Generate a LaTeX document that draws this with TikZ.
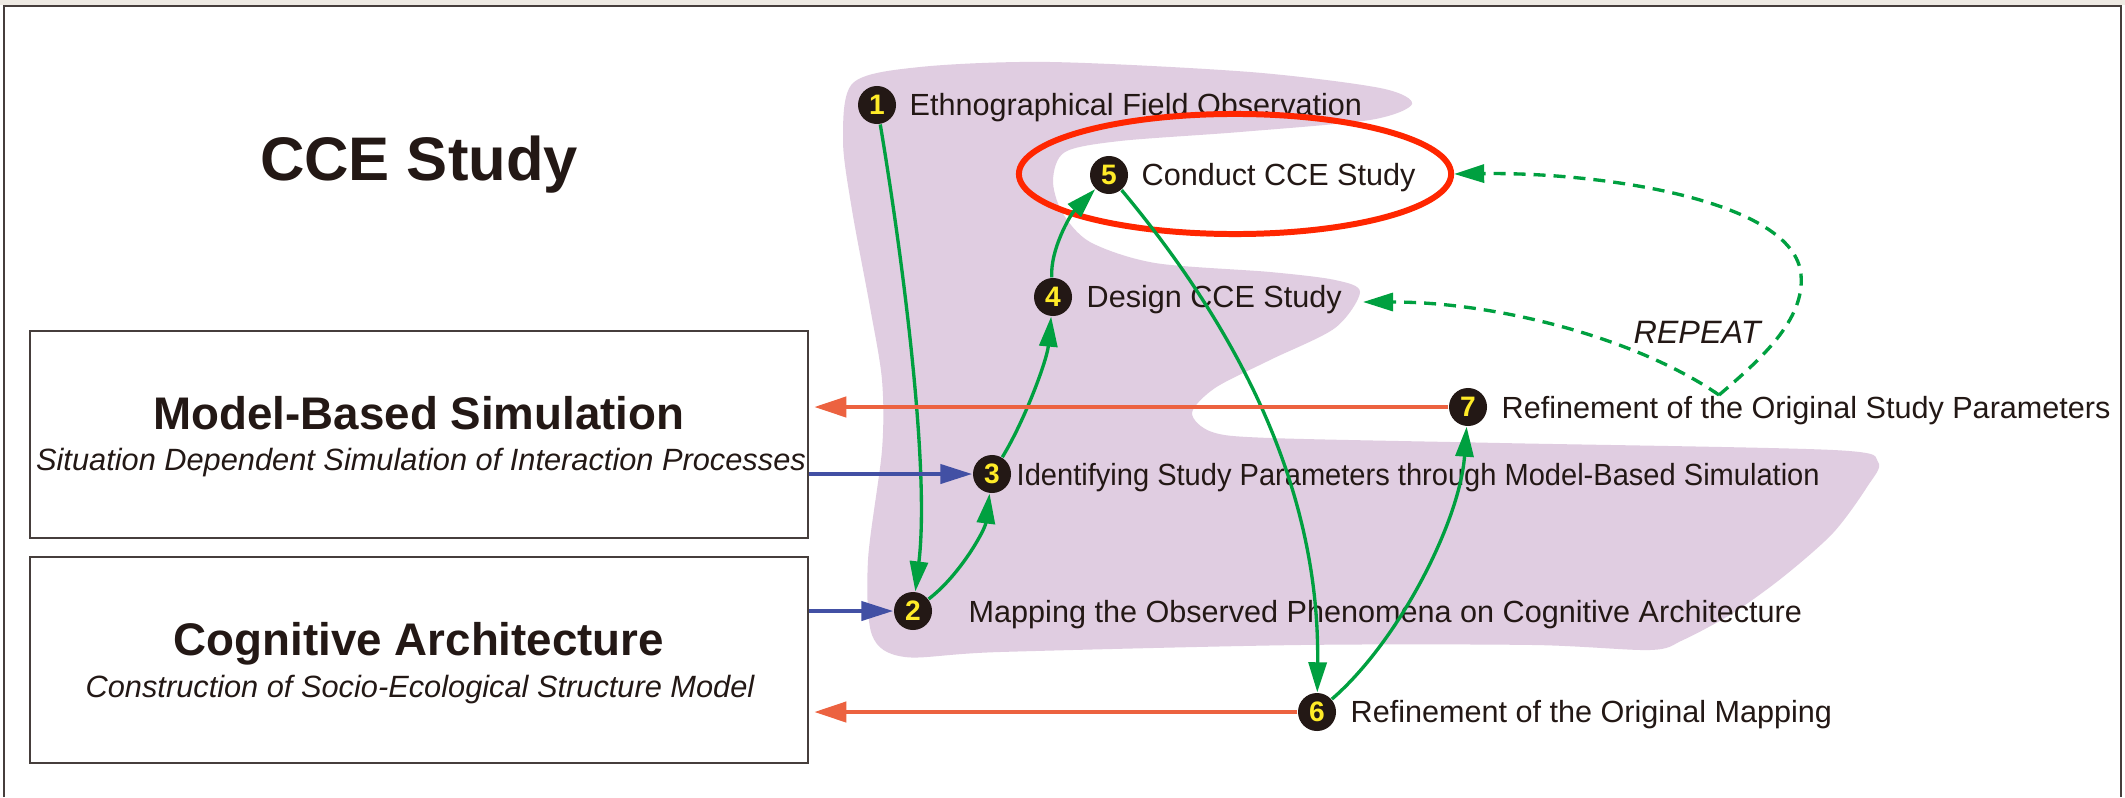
\documentclass[tikz,border=0pt]{standalone}
\usepackage{graphicx}
\usepackage{fontspec}
\setmainfont{Liberation Sans}
\usetikzlibrary{arrows.meta,shapes.geometric}
\definecolor{ink}{RGB}{35,24,21}
\definecolor{blob}{RGB}{224,205,225}
\definecolor{ringred}{RGB}{255,38,0}
\definecolor{flowgreen}{RGB}{0,160,64}
\definecolor{backorange}{RGB}{236,98,64}
\definecolor{inblue}{RGB}{66,80,164}
\definecolor{numyellow}{RGB}{255,235,40}
\definecolor{beige}{RGB}{238,234,227}
\definecolor{framegray}{RGB}{70,62,60}
\begin{document}
\begin{tikzpicture}[x=0.01cm,y=-0.01cm,
  num/.style={circle,fill=ink,text=numyellow,inner sep=0pt,minimum size=0.38cm,font=\bfseries\fontsize{8}{8}\selectfont},
  lbl/.style={anchor=base west,inner sep=0pt,text=ink,font=\fontsize{8.7}{10}\selectfont},
  boxnode/.style={draw=framegray,line width=0.6pt,rectangle,inner sep=0pt},
  tip/.style={-{Triangle[length=0.3cm,width=0.18cm]}},
  greenflow/.style={tip,draw=flowgreen,line width=0.95pt},
  repeatflow/.style={tip,draw=flowgreen,line width=0.95pt,dash pattern=on 0.12cm off 0.08cm},
  backflow/.style={-{Triangle[length=0.32cm,width=0.2cm]},draw=backorange,line width=1.2pt,shorten >=0.05cm},
  inflow/.style={-{Triangle[length=0.32cm,width=0.19cm]},draw=inblue,line width=1.2pt}
]
\useasboundingbox (0,0) rectangle (2125,797);
\fill[white] (0,0) rectangle (2125,797);
\fill[beige] (0,0) rectangle (2125,5);
\draw[framegray,line width=0.6pt] (4,797) -- (4,6) -- (2121,6) -- (2121,797);

% purple region
\fill[blob] plot[smooth cycle,tension=0.5] coordinates {
 (853,83) (920,67) (1050,62) (1250,72) (1380,88) (1412,104) (1370,120)
 (1240,132) (1120,141) (1065,152) (1053,180) (1062,212) (1090,242)
 (1155,263) (1270,272) (1335,280) (1360,292) (1335,328) (1270,360)
 (1215,388) (1192,413) (1212,432) (1270,438) (1500,443) (1833,450)
 (1878,462) (1867,487) (1833,533) (1783,577) (1733,613) (1683,640)
 (1650,650) (1533,645) (1300,645) (1000,652) (905,657) (872,635)
 (868,560) (882,450) (882,380) (870,307) (852,210) (843,140)};

% title
\node[anchor=base,inner sep=0pt,text=ink,font=\bfseries\fontsize{17.5}{20}\selectfont] (title) at (419,180) {CCE Study};

% boxes
\node[boxnode,minimum width=7.78cm,minimum height=2.07cm] (b1) at (419,434.5) {};
\node[boxnode,minimum width=7.78cm,minimum height=2.06cm] (b2) at (419,660) {};
\node[anchor=base,inner sep=0pt,text=ink,font=\bfseries\fontsize{13}{15}\selectfont] (b1t) at (419,429) {Model-Based Simulation};
\node[anchor=base,inner sep=0pt,text=ink,font=\itshape\fontsize{8.75}{10}\selectfont] (b1s) at (421,470) {Situation Dependent Simulation of Interaction Processes};
\node[anchor=base,inner sep=0pt,text=ink,font=\bfseries\fontsize{13}{15}\selectfont] (b2t) at (419,655) {Cognitive Architecture};
\node[anchor=base,inner sep=0pt,text=ink,font=\itshape\fontsize{8.75}{10}\selectfont] (b2s) at (420,697) {Construction of Socio-Ecological Structure Model};

% labels
\node[lbl] (l1) at (909,115) {Ethnographical Field Observation};
\node[lbl] (l5) at (1141,185) {Conduct CCE Study};
\node[lbl] (l4) at (1086,307) {Design CCE Study};
\node[lbl] (l3) at (1016,485) {\scalebox{0.95}[1]{Identifying Study Parameters through Model-Based Simulation}};
\node[lbl] (l2) at (968,622) {Mapping the Observed Phenomena on Cognitive Architecture};
\node[lbl] (l6) at (1350,722) {Refinement of the Original Mapping};
\node[lbl] (l7) at (1501,418) {Refinement of the Original Study Parameters};
\node[anchor=base,inner sep=0pt,text=ink,font=\itshape\fontsize{9.2}{10}\selectfont] (rep) at (1697,343) {REPEAT};

% numbered circles
\node[num] (c1) at (877,105) {1};
\node[num] (c2) at (913,611) {2};
\node[num] (c3) at (992,474) {3};
\node[num] (c4) at (1053,297) {4};
\node[num] (c5) at (1109,175) {5};
\node[num] (c6) at (1317,712) {6};
\node[num] (c7) at (1468,407) {7};

% red ellipse
\node[ellipse,draw=ringred,line width=1.7pt,minimum width=4.32cm,minimum height=1.2cm,inner sep=0pt] (ell) at (1235,174) {};

% green flow
\draw[greenflow] (c1) .. controls (903,260) and (930,470) .. (c2);
\draw[greenflow] (c2) .. controls (960,575) and (985,530) .. (c3);
\draw[greenflow] (c3) .. controls (1025,420) and (1047,360) .. (c4);
\draw[greenflow] (c4) .. controls (1050,250) and (1070,215) .. (c5);
\draw[greenflow] (c5) .. controls (1230,320) and (1320,480) .. (c6);
\draw[greenflow] (c6) .. controls (1400,640) and (1460,520) .. (c7);

% repeat loops
\coordinate (rs) at (1719,395);
\coordinate (d4) at (1363,302);
\coordinate (rr) at (1801,275);
\draw[repeatflow] (rs) .. controls (1760,360) and (1805,320) .. (rr) .. controls (1795,200) and (1600,172) .. (ell.east);
\draw[repeatflow] (rs) .. controls (1640,340) and (1500,302) .. (d4);

% back flows
\draw[backflow] (c7.west) -- (c7.west -| b1.east);
\draw[backflow] (c6.west) -- (c6.west -| b2.east);

% inputs
\draw[inflow] (c3 -| b1.east) -- (c3.west);
\draw[inflow] (c2 -| b2.east) -- (c2.west);
\end{tikzpicture}
\end{document}
